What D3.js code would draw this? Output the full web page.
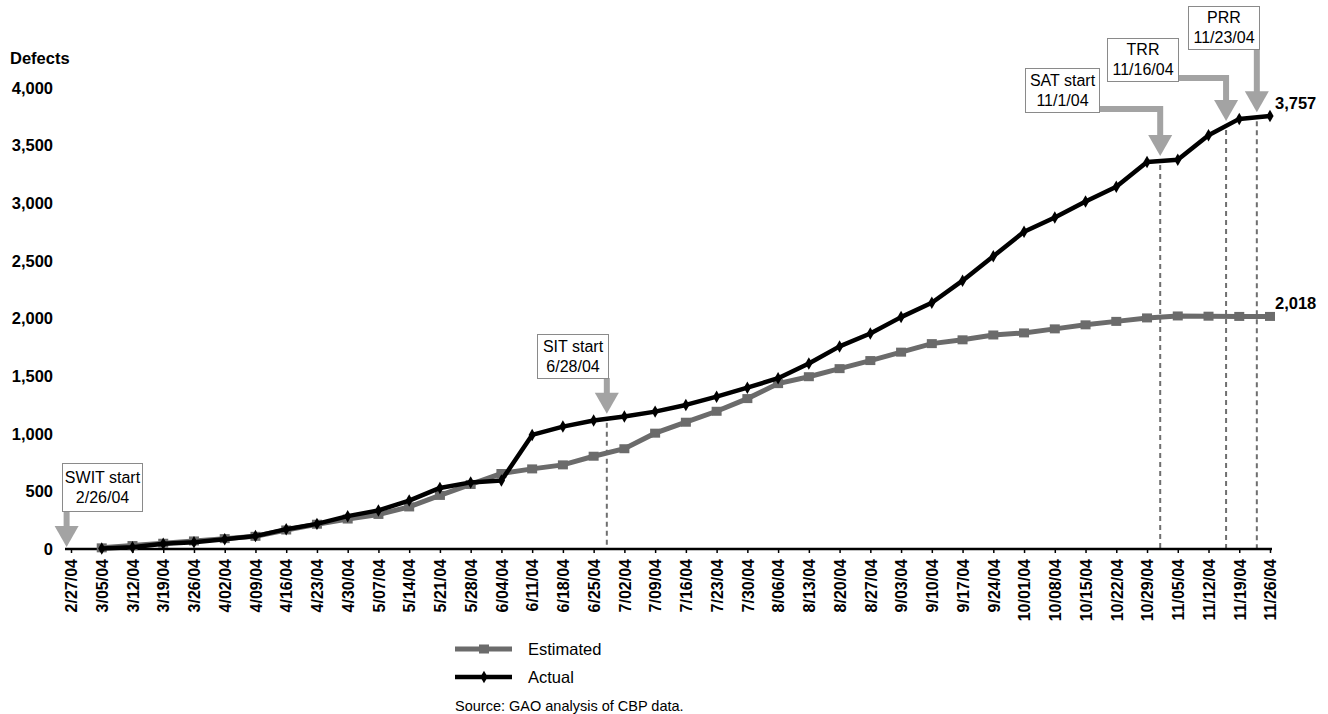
<!DOCTYPE html>
<meta charset="utf-8">
<script src="https://cdn.jsdelivr.net/npm/d3@7"></script>
<style>
  body { margin: 0; background: #fff; }
  text { font-family: "Liberation Sans", Arial, Helvetica, sans-serif; }
</style>
<div id="chart"></div>
<script>
// weekly reporting dates (x axis)
var weeks = ["2/27/04", "3/05/04", "3/12/04", "3/19/04", "3/26/04", "4/02/04", "4/09/04",
  "4/16/04", "4/23/04", "4/30/04", "5/07/04", "5/14/04", "5/21/04", "5/28/04", "6/04/04",
  "6/11/04", "6/18/04", "6/25/04", "7/02/04", "7/09/04", "7/16/04", "7/23/04", "7/30/04",
  "8/06/04", "8/13/04", "8/20/04", "8/27/04", "9/03/04", "9/10/04", "9/17/04", "9/24/04",
  "10/01/04", "10/08/04", "10/15/04", "10/22/04", "10/29/04", "11/05/04", "11/12/04",
  "11/19/04", "11/26/04"];

// cumulative defects
var estimated = [null, 10, 30, 50, 70, 90, 110, 165, 215, 260, 300, 365, 465, 560, 655,
  695, 730, 805, 870, 1005, 1100, 1195, 1305, 1435, 1495, 1565, 1635, 1708, 1782, 1815, 1857,
  1875, 1910, 1945, 1975, 2005, 2022, 2020, 2018, 2018];
var actual = [null, 5, 15, 45, 58, 85, 112, 172, 218, 285, 335, 420, 530, 578, 595,
  990, 1062, 1115, 1150, 1192, 1250, 1322, 1400, 1482, 1610, 1758, 1870, 2012, 2137, 2328, 2540,
  2752, 2877, 3015, 3143, 3358, 3378, 3590, 3732, 3757];

var yTicks = [0, 500, 1000, 1500, 2000, 2500, 3000, 3500, 4000];

// test milestones
var events = [
  {name: "SWIT start", date: "2/26/04"},
  {name: "SIT start", date: "6/28/04"},
  {name: "SAT start", date: "11/1/04"},
  {name: "TRR", date: "11/16/04"},
  {name: "PRR", date: "11/23/04"}
];
// callout box placement, same order as events
var boxes = [
  {x: 62, y: 463, w: 80, h: 48, elbow: false, dashed: false},
  {x: 537, y: 334, w: 71, h: 44, elbow: false, dashed: true},
  {x: 1025, y: 68, w: 74, h: 44, elbow: true, dashed: true},
  {x: 1107, y: 38, w: 71, h: 43, elbow: true, dashed: true},
  {x: 1188, y: 6, w: 71, h: 43, elbow: false, dashed: true}
];

var W = 1328, H = 714;
var parse = d3.timeParse("%m/%d/%y");
var dates = weeks.map(parse);

var svg = d3.select("#chart").append("svg")
  .attr("width", W).attr("height", H);

var x = d3.scaleTime()
  .domain([dates[0], dates[dates.length - 1]])
  .range([71, 1270]);
var y = d3.scaleLinear()
  .domain([0, 4000])
  .range([549, 88]);

var grey = "#6b6b6b", arrowGrey = "#a3a3a3";

// value of the actual curve at any date (linear between weeks)
function actualAt(d) {
  var i = d3.bisectRight(dates, d) - 1;
  if (i < 1 || actual[i] == null) return 0;
  if (i >= dates.length - 1) return actual[dates.length - 1];
  var t = (d - dates[i]) / (dates[i + 1] - dates[i]);
  return actual[i] + t * (actual[i + 1] - actual[i]);
}

// y axis labels
var yAxis = svg.append("g")
  .attr("transform", "translate(56,0)")
  .call(d3.axisLeft(y).tickValues(yTicks).tickSize(0).tickPadding(3).tickFormat(d3.format(",")));
yAxis.select(".domain").remove();
yAxis.selectAll("text")
  .style("font-size", "16.5px").style("font-weight", "bold")
  .style("font-family", "'Liberation Sans', Arial, sans-serif").attr("fill", "#000");

svg.append("text")
  .attr("x", 10).attr("y", 64)
  .style("font-size", "16.5px").style("font-weight", "bold")
  .text("Defects");

// dashed milestone lines
events.forEach(function(e, i) {
  if (!boxes[i].dashed) return;
  var d = parse(e.date);
  svg.append("line")
    .attr("x1", x(d)).attr("x2", x(d))
    .attr("y1", y(actualAt(d)) + 4).attr("y2", y(0))
    .attr("stroke", "#6f6f6f").attr("stroke-width", 2)
    .attr("stroke-dasharray", "5,4");
});

// x axis
var xAxis = svg.append("g")
  .attr("transform", "translate(0," + y(0) + ")")
  .call(d3.axisBottom(x).tickValues(dates).tickSize(4).tickSizeOuter(0)
    .tickFormat(function(d, i) { return weeks[i]; }));
xAxis.select(".domain").remove();
xAxis.selectAll(".tick line").attr("stroke", "#000").attr("stroke-width", 1.5);
xAxis.selectAll("text")
  .attr("transform", "rotate(-90)")
  .attr("x", -10).attr("y", 0).attr("dy", "0.36em")
  .style("text-anchor", "end")
  .style("font-size", "16px").style("font-weight", "bold")
  .style("font-family", "'Liberation Sans', Arial, sans-serif").attr("fill", "#000");

svg.append("line")
  .attr("x1", x(dates[0]) - 6).attr("x2", x(dates[dates.length - 1]) + 2)
  .attr("y1", y(0)).attr("y2", y(0))
  .attr("stroke", "#000").attr("stroke-width", 2.5);

var line = function(vals) {
  return d3.line()
    .defined(function(d, i) { return vals[i] != null; })
    .x(function(d, i) { return x(dates[i]); })
    .y(function(d, i) { return y(vals[i]); })(vals);
};

// estimated series
svg.append("path")
  .attr("d", line(estimated))
  .attr("fill", "none").attr("stroke", grey).attr("stroke-width", 5);
svg.append("g").selectAll("rect")
  .data(estimated.map(function(v, i) { return {v: v, d: dates[i]}; }).filter(function(p) { return p.v != null; }))
  .enter().append("rect")
    .attr("x", function(p) { return x(p.d) - 5; })
    .attr("y", function(p) { return y(p.v) - 4.5; })
    .attr("width", 10).attr("height", 9)
    .attr("fill", grey);

// actual series
svg.append("path")
  .attr("d", line(actual))
  .attr("fill", "none").attr("stroke", "#000").attr("stroke-width", 4.5)
  .attr("stroke-linejoin", "round");
svg.append("g").selectAll("path")
  .data(actual.map(function(v, i) { return {v: v, d: dates[i]}; }).filter(function(p) { return p.v != null; }))
  .enter().append("path")
    .attr("d", d3.symbol().type(d3.symbolDiamond).size(45))
    .attr("transform", function(p) { return "translate(" + x(p.d) + "," + y(p.v) + ")"; })
    .attr("fill", "#000");

// end values
var last = dates.length - 1;
[estimated, actual].forEach(function(vals) {
  svg.append("text")
    .attr("x", x(dates[last]) + 5).attr("y", y(vals[last]) - 7)
    .style("font-size", "16.5px").style("font-weight", "bold")
    .text(d3.format(",")(vals[last]));
});

// milestone callouts
events.forEach(function(e, i) {
  var b = boxes[i], d = parse(e.date);
  var ax = x(d);
  var tip = (i === 0) ? y(0) - 2 : y(actualAt(d)) - 5;
  var headH = 21, headW = 24;
  var pts;
  if (b.elbow) {
    var cy = b.y + b.h - 3;
    pts = [[b.x + b.w, cy], [ax, cy], [ax, tip - headH + 1]];
  } else {
    pts = [[ax, b.y + b.h], [ax, tip - headH + 1]];
  }
  svg.append("path")
    .attr("d", d3.line()(pts))
    .attr("fill", "none").attr("stroke", arrowGrey).attr("stroke-width", 6)
    .attr("stroke-linejoin", "miter");
  svg.append("path")
    .attr("d", d3.line()([[ax - headW / 2, tip - headH], [ax + headW / 2, tip - headH], [ax, tip]]) + "Z")
    .attr("fill", arrowGrey);

  svg.append("rect")
    .attr("x", b.x + 0.5).attr("y", b.y + 0.5)
    .attr("width", b.w).attr("height", b.h)
    .attr("fill", "#fff").attr("stroke", "#8a8a8a").attr("stroke-width", 1);
  var t = svg.append("text")
    .attr("text-anchor", "middle")
    .style("font-size", "16px");
  t.append("tspan").attr("x", b.x + b.w / 2 + 0.5).attr("y", b.y + b.h / 2 - 10).attr("dy", "0.35em").text(e.name);
  t.append("tspan").attr("x", b.x + b.w / 2 + 0.5).attr("y", b.y + b.h / 2 + 10).attr("dy", "0.35em").text(e.date);
});

// legend
var legend = [
  {name: "Estimated", color: grey, width: 5, marker: "rect"},
  {name: "Actual", color: "#000", width: 4.5, marker: "diamond"}
];
legend.forEach(function(l, i) {
  var ly = 649 + i * 28;
  svg.append("line")
    .attr("x1", 455).attr("x2", 512).attr("y1", ly).attr("y2", ly)
    .attr("stroke", l.color).attr("stroke-width", l.width);
  if (l.marker === "rect") {
    svg.append("rect").attr("x", 479).attr("y", ly - 4.5).attr("width", 10).attr("height", 9).attr("fill", l.color);
  } else {
    svg.append("path").attr("d", d3.symbol().type(d3.symbolDiamond).size(45))
      .attr("transform", "translate(484," + ly + ")").attr("fill", l.color);
  }
  svg.append("text")
    .attr("x", 528).attr("y", ly).attr("dy", "0.35em")
    .style("font-size", "16.5px")
    .text(l.name);
});

svg.append("text")
  .attr("x", 455).attr("y", 706).attr("dy", "0.35em")
  .style("font-size", "14.5px")
  .text("Source: GAO analysis of CBP data.");
</script>
